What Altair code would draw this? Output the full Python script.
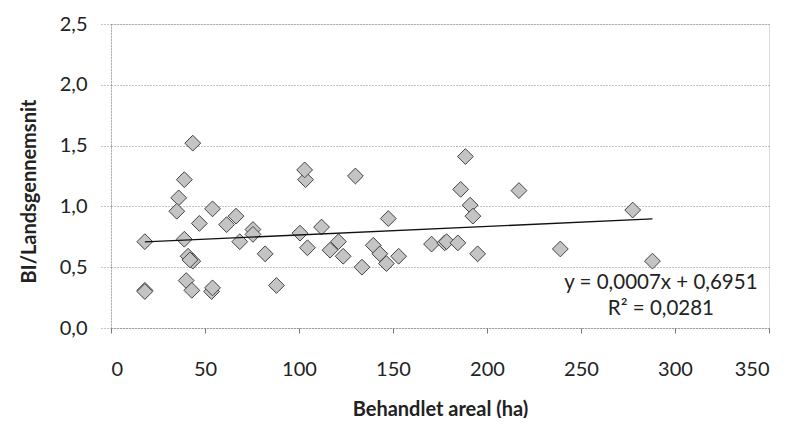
import altair as alt
import pandas as pd

# Behandlet areal (ha) and BI/Landsgennemsnit
areal = [18, 18, 18, 43.5, 39, 36, 35, 54, 47, 61.5, 66.5, 39, 68.5, 75.5, 82, 41, 43.5,
         40, 43, 53.5, 88, 100.5, 104.5, 103.5, 103, 130, 147.5, 112, 116.5, 121, 123.5,
         133.5, 139.5, 143, 146.5, 153, 170.5, 177.5, 188.5, 186, 217, 191, 192.5, 277.5,
         178.5, 184.5, 195, 239, 288, 42, 75.5, 54]
bi = [0.31, 0.71, 0.30, 1.52, 1.22, 1.07, 0.96, 0.98, 0.86, 0.85, 0.92, 0.73, 0.71, 0.81,
      0.61, 0.59, 0.55, 0.39, 0.31, 0.30, 0.35, 0.78, 0.66, 1.22, 1.30, 1.25, 0.90, 0.83,
      0.64, 0.71, 0.59, 0.50, 0.68, 0.61, 0.53, 0.59, 0.69, 0.70, 1.41, 1.14, 1.13, 1.01,
      0.92, 0.97, 0.71, 0.70, 0.61, 0.65, 0.55, 0.56, 0.77, 0.33]

slope = 0.0007
intercept = 0.6951
trend_x = [18, 288]
equation_lines = ["y = 0,0007x + 0,6951", "R² = 0,0281"]
equation_y = [0.372, 0.158]
equation_x = [292.5, 292.5]

FONT = "Lato"
TXT = "#222222"

pts = pd.DataFrame({"x": areal, "y": bi})
trend = pd.DataFrame({"x": trend_x})
eq = pd.DataFrame({"t": equation_lines, "y": equation_y, "x": equation_x})

xscale = alt.Scale(domain=[0, 350], nice=False)
yscale = alt.Scale(domain=[0, 2.5], nice=False)

xaxis = alt.Axis(values=[0, 50, 100, 150, 200, 250, 300, 350], grid=False,
                 title="Behandlet areal (ha)", titleFont=FONT, titleFontSize=20,
                 titleFontWeight="bold", titleColor=TXT, titleY=81,
                 titleBaseline="middle",
                 labelFont=FONT, labelFontSize=20, labelColor=TXT, labelPadding=26,
                 tickSize=5, tickColor="#777777", domainColor="#888888",
                 domainDash=[1, 2])
yaxis = alt.Axis(values=[0, 0.5, 1.0, 1.5, 2.0, 2.5], grid=True, gridColor="#888888",
                 gridDash=[1, 2], gridWidth=1,
                 labelExpr="replace(format(datum.value, '.1f'), '.', ',')",
                 title="BI/Landsgennemsnit", titleFont=FONT, titleFontSize=20,
                 titleFontWeight="bold", titleColor=TXT, titleX=-82, titleY=167,
                 titleAngle=270, titleAlign="center", titleBaseline="middle",
                 labelFont=FONT, labelFontSize=20, labelColor=TXT, labelPadding=14,
                 tickSize=10, tickColor="#888888", tickDash=[1, 2],
                 domainColor="#888888", domainDash=[1, 2])

points = alt.Chart(pts).mark_point(shape="diamond", filled=True, size=250,
                                   fill="#c4c4c4", stroke="#444444", strokeWidth=1,
                                   opacity=1).encode(
    x=alt.X("x:Q", scale=xscale, axis=xaxis),
    y=alt.Y("y:Q", scale=yscale, axis=yaxis),
)

line = alt.Chart(trend).transform_calculate(
    y=f"{slope} * datum.x + {intercept}"
).mark_line(color="#111111", strokeWidth=1.3).encode(
    x=alt.X("x:Q", scale=xscale), y=alt.Y("y:Q", scale=yscale)
)

text = alt.Chart(eq).mark_text(font=FONT, fontSize=20.5, color=TXT, align="center",
                               baseline="middle").encode(
    x=alt.X("x:Q", scale=xscale), y=alt.Y("y:Q", scale=yscale), text="t:N"
)

chart = alt.layer(points, line, text).properties(
    width=658, height=304,
    autosize=alt.AutoSizeParams(type="none"),
    padding={"left": 103, "top": 16, "right": 14, "bottom": 90},
).configure_view(stroke=None).configure(background="white")

chart.save("out.html", embed_options={"renderer": "svg", "actions": False})
